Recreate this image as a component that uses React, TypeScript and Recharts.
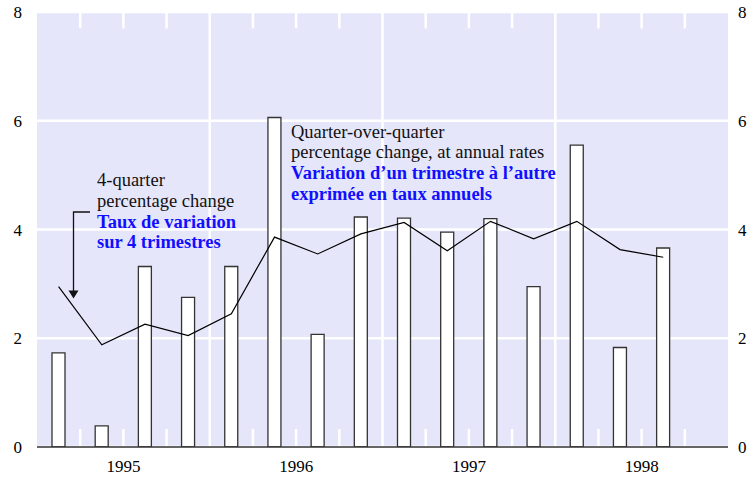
import React from 'react';
import {
  ComposedChart,
  Bar,
  Line,
  XAxis,
  YAxis,
  CartesianGrid,
  ReferenceLine,
} from 'recharts';

const quarters = [
  '1995Q1', '1995Q2', '1995Q3', '1995Q4',
  '1996Q1', '1996Q2', '1996Q3', '1996Q4',
  '1997Q1', '1997Q2', '1997Q3', '1997Q4',
  '1998Q1', '1998Q2', '1998Q3', '1998Q4',
];
const quarterOverQuarter = [1.73, 0.39, 3.32, 2.75, 3.32, 6.06, 2.07, 4.23, 4.21, 3.95, 4.2, 2.95, 5.55, 1.83, 3.66, null];
const fourQuarter = [2.95, 1.88, 2.26, 2.05, 2.45, 3.86, 3.55, 3.92, 4.13, 3.61, 4.15, 3.83, 4.15, 3.63, 3.49, null];
const yearLabels = ['1995', '1996', '1997', '1998'];
const yearLabelPositions = [2, 6, 10, 14];
const yearBoundaries = [4, 8, 12];
const quarterBoundaries = [1, 2, 3, 5, 6, 7, 9, 10, 11, 13, 14, 15];
const yTicks = [0, 2, 4, 6, 8];

const data = quarters.map((q, i) => ({
  q,
  idx: i + 0.5,
  qoq: quarterOverQuarter[i],
  four: fourQuarter[i],
}));

const FONT = 'Liberation Serif';
const BG = '#e6e6fb';
const BLUE = '#1010ff';

const XTick = (props: any) => {
  const { x, y, payload } = props;
  const label = yearLabels[yearLabelPositions.indexOf(payload.value)] ?? '';
  return (
    <text x={x} y={y + 12} textAnchor="middle" fontFamily={FONT} fontSize={17} fill="#000">
      {label}
    </text>
  );
};

const LeftTick = (props: any) => {
  const { x, y, payload } = props;
  return (
    <text x={x} y={y + 6} textAnchor="end" fontFamily={FONT} fontSize={17} fill="#000">
      {payload.value}
    </text>
  );
};

const RightTick = (props: any) => {
  const { x, y, payload } = props;
  return (
    <text x={x} y={y + 6} textAnchor="start" fontFamily={FONT} fontSize={17} fill="#000">
      {payload.value}
    </text>
  );
};

const Note = ({ x, y, bold, children }: any) => (
  <text
    x={x}
    y={y}
    fontFamily={FONT}
    fontSize={18.5}
    fontWeight={bold ? 'bold' : 'normal'}
    fill={bold ? BLUE : '#111'}
  >
    {children}
  </text>
);

export default function App() {
  return (
    <div style={{ position: 'absolute', left: 0, top: 0, width: 755, height: 477 }}>
      <ComposedChart
        width={755}
        height={477}
        data={data}
        margin={{ top: 12, right: 0, bottom: 8, left: 0 }}
      >
        <CartesianGrid
          xAxisId="num"
          yAxisId="left"
          vertical={false}
          stroke="#ffffff"
          strokeWidth={2.5}
          fill={BG}
          fillOpacity={1}
        />
        <XAxis xAxisId="cat" dataKey="q" type="category" orientation="top" height={0} hide />
        <XAxis
          xAxisId="num"
          dataKey="idx"
          type="number"
          domain={[0, 16]}
          ticks={yearLabelPositions}
          axisLine={{ stroke: '#333', strokeWidth: 1.4 }}
          tickLine={false}
          tickSize={0}
          tickMargin={13}
          height={22}
          tick={<XTick />}
          allowDataOverflow
        />
        <YAxis
          yAxisId="left"
          domain={[0, 8]}
          ticks={yTicks}
          axisLine={false}
          tickLine={false}
          tickSize={0}
          tickMargin={15}
          width={37}
          tick={<LeftTick />}
          allowDataOverflow
        />
        <YAxis
          yAxisId="right"
          orientation="right"
          domain={[0, 8]}
          ticks={yTicks}
          axisLine={false}
          tickLine={false}
          tickSize={0}
          tickMargin={10}
          width={27}
          tick={<RightTick />}
          allowDataOverflow
        />
        {yearBoundaries.map((x) => (
          <ReferenceLine
            key={'yb' + x}
            xAxisId="num"
            yAxisId="left"
            x={x}
            stroke="#ffffff"
            strokeWidth={2.5}
          />
        ))}
        {quarterBoundaries.map((x) => (
          <ReferenceLine
            key={'qb' + x}
            xAxisId="num"
            yAxisId="left"
            segment={[{ x, y: 0 }, { x, y: 0.33 }]}
            stroke="#ffffff"
            strokeWidth={2.5}
          />
        ))}
        {quarterBoundaries.map((x) => (
          <ReferenceLine
            key={'qt' + x}
            xAxisId="num"
            yAxisId="left"
            segment={[{ x, y: 8 }, { x, y: 7.7 }]}
            stroke="#ffffff"
            strokeWidth={2.5}
          />
        ))}
        <Bar
          xAxisId="cat"
          yAxisId="left"
          dataKey="qoq"
          barSize={13}
          fill="#ffffff"
          stroke="#333"
          strokeWidth={1.3}
          isAnimationActive={false}
        />
        <Line
          xAxisId="cat"
          yAxisId="left"
          dataKey="four"
          type="linear"
          stroke="#000"
          strokeWidth={1.2}
          dot={false}
          activeDot={false}
          isAnimationActive={false}
        />
      </ComposedChart>
      <svg
        width={755}
        height={477}
        style={{ position: 'absolute', left: 0, top: 0, pointerEvents: 'none' }}
      >
        <Note x={97} y={186}>4-quarter</Note>
        <Note x={97} y={206.5}>percentage change</Note>
        <Note x={97} y={227.5} bold>Taux de variation</Note>
        <Note x={97} y={248} bold>sur 4 trimestres</Note>
        <Note x={291} y={137.5}>Quarter-over-quarter</Note>
        <Note x={291} y={158}>percentage change, at annual rates</Note>
        <Note x={291} y={179} bold>Variation d’un trimestre à l’autre</Note>
        <Note x={291} y={199.5} bold>exprimée en taux annuels</Note>
        <polyline points="90,212 73.5,212 73.5,291" fill="none" stroke="#111" strokeWidth={1.3} />
        <polygon points="68.5,290.5 78.5,290.5 73.5,298.5" fill="#111" />
      </svg>
    </div>
  );
}
